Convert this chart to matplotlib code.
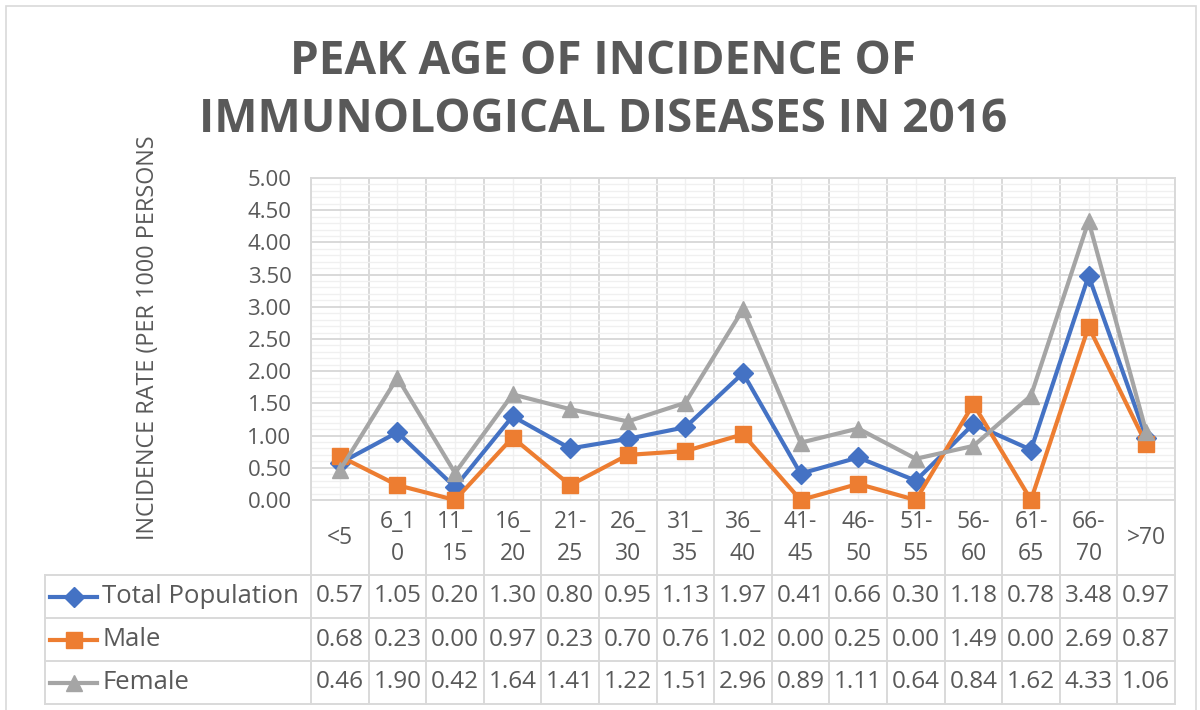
import matplotlib
matplotlib.use("Agg")
import matplotlib.pyplot as plt
from matplotlib.ticker import MultipleLocator, FormatStrFormatter
from matplotlib.transforms import blended_transform_factory
from matplotlib.lines import Line2D

categories = ["<5", "6_1\n0", "11_\n15", "16_\n20", "21-\n25", "26_\n30", "31_\n35",
              "36_\n40", "41-\n45", "46-\n50", "51-\n55", "56-\n60", "61-\n65", "66-\n70", ">70"]
total = [0.57, 1.05, 0.20, 1.30, 0.80, 0.95, 1.13, 1.97, 0.41, 0.66, 0.30, 1.18, 0.78, 3.48, 0.97]
male = [0.68, 0.23, 0.00, 0.97, 0.23, 0.70, 0.76, 1.02, 0.00, 0.25, 0.00, 1.49, 0.00, 2.69, 0.87]
female = [0.46, 1.90, 0.42, 1.64, 1.41, 1.22, 1.51, 2.96, 0.89, 1.11, 0.64, 0.84, 1.62, 4.33, 1.06]
series_names = ["Total Population", "Male", "Female"]
title_lines = ["PEAK AGE OF INCIDENCE OF", "IMMUNOLOGICAL DISEASES IN 2016"]
ylabel = "INCIDENCE RATE (PER 1000 PERSONS"

FONT = "Open Sans"
TXT = "#595959"
MAJ = "#D9D9D9"
MIN = "#F0F0F0"
colors = ["#4472C4", "#ED7D31", "#A5A5A5"]
markers = ["D", "s", "^"]
msizes = [10, 12, 12]

W, H = 1200, 710
fig = plt.figure(figsize=(W / 100, H / 100), dpi=100)

def fy(p):
    return 1 - p / H

def fx(p):
    return p / W

left, right, top, bottom = 311, 1175, 178, 500
ax = fig.add_axes([fx(left), fy(bottom), fx(right - left), (bottom - top) / H])
n = len(categories)
x = list(range(n))
ax.set_xlim(-0.5, n - 0.5)
ax.set_ylim(0, 5)

# gridlines
ax.yaxis.set_major_locator(MultipleLocator(0.5))
ax.yaxis.set_minor_locator(MultipleLocator(0.1))
ax.xaxis.set_major_locator(MultipleLocator(1, offset=0.5))
ax.xaxis.set_minor_locator(MultipleLocator(1))
ax.grid(which="minor", color=MIN, lw=1.0, zorder=0)
ax.grid(which="major", color=MAJ, lw=1.4, zorder=0)
ax.set_axisbelow(True)
for s in ax.spines.values():
    s.set_color(MAJ)
    s.set_linewidth(1.4)
ax.tick_params(axis="x", which="both", length=0, labelbottom=False)
ax.tick_params(axis="y", which="both", length=0, labelsize=16, labelcolor=TXT, pad=14)
ax.yaxis.set_major_formatter(FormatStrFormatter("%.2f"))
for lab in ax.get_yticklabels():
    lab.set_fontfamily(FONT)

for vals, c, m, ms in zip([total, male, female], colors, markers, msizes):
    ax.plot(x, vals, color=c, lw=3.0, marker=m, markersize=ms, zorder=3, clip_on=False)

# data table
bt = blended_transform_factory(ax.transData, fig.transFigure)
row_y = [575, 618, 661, 704]
label_top = 500
tab_left = 45
bounds = [i - 0.5 for i in range(n + 1)]
for b in bounds:
    fig.add_artist(Line2D([b, b], [fy(label_top), fy(row_y[-1])], transform=bt, color=MAJ, lw=1.4))
for ry in row_y:
    fig.add_artist(Line2D([fx(tab_left), fx(right)], [fy(ry), fy(ry)], transform=fig.transFigure, color=MAJ, lw=1.4))
fig.add_artist(Line2D([fx(tab_left), fx(tab_left)], [fy(row_y[0]), fy(row_y[-1])], transform=fig.transFigure, color=MAJ, lw=1.4))

for i, cat in enumerate(categories):
    fig.text(i, fy(538), cat, transform=bt, ha="center", va="center", fontsize=16.5,
             color=TXT, family=FONT, linespacing=1.45)

for r, (vals, name, c, m, ms) in enumerate(zip([total, male, female], series_names, colors, markers, msizes)):
    yc = (row_y[r] + row_y[r + 1]) / 2
    fig.add_artist(Line2D([fx(50), fx(97)], [fy(yc), fy(yc)], transform=fig.transFigure, color=c, lw=3.0))
    fig.add_artist(Line2D([fx(73.5)], [fy(yc)], transform=fig.transFigure, color=c, marker=m, markersize=ms, lw=0))
    fig.text(fx(102), fy(yc), name, ha="left", va="center", fontsize=18.5, color=TXT, family=FONT)
    for i, v in enumerate(vals):
        fig.text(i, fy(yc), f"{v:.2f}", transform=bt, ha="center", va="center", fontsize=17.5,
                 color=TXT, family=FONT)

# y label
fig.text(fx(148), fy(540), ylabel, rotation=90, ha="center", va="bottom", fontsize=16.8,
         color=TXT, family=FONT)

# title
fig.text(fx(603), fy(61), title_lines[0], ha="center", va="center", fontsize=33,
         fontweight="bold", color=TXT, family=FONT)
fig.text(fx(603), fy(119), title_lines[1], ha="center", va="center", fontsize=33,
         fontweight="bold", color=TXT, family=FONT)

# outer chart border
fig.add_artist(plt.Rectangle((fx(6), fy(712)), fx(1190), (712 - 6) / H, transform=fig.transFigure,
                             fill=False, edgecolor=MAJ, lw=1.2))

fig.savefig("out.png", dpi=100, facecolor="white")
